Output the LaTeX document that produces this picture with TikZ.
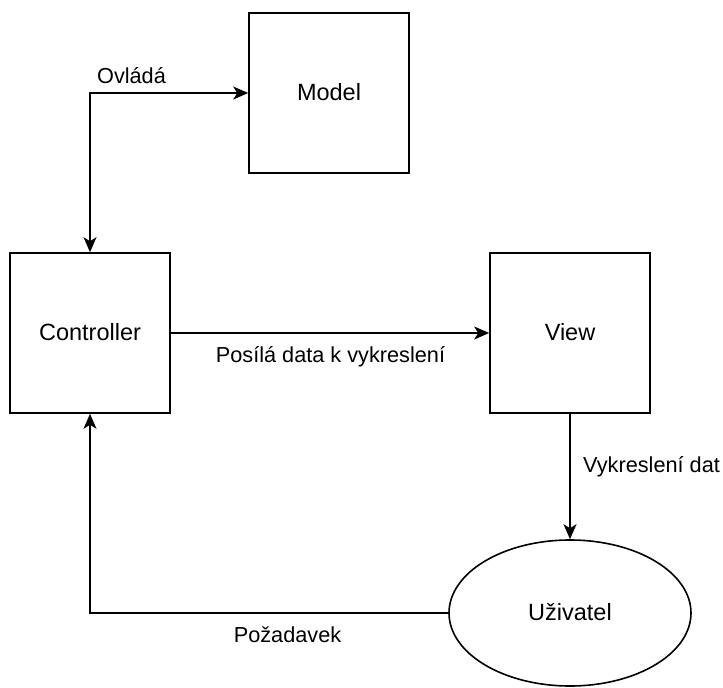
\documentclass[tikz,border=0pt]{standalone}
\usepackage{fontspec}
\setmainfont{Liberation Sans}
\usetikzlibrary{arrows.meta,shapes.geometric}
\tikzset{
  boxnode/.style={draw=black, line width=1.6pt, rectangle, minimum width=160pt, minimum height=160pt, inner sep=0pt,
    font=\fontsize{23.5}{28}\selectfont, text height=14pt, text depth=0pt},
  usernode/.style={draw=black, line width=1.6pt, ellipse, minimum width=242pt, minimum height=146pt, inner sep=0pt,
    font=\fontsize{23.5}{28}\selectfont, text height=14pt, text depth=0pt},
  lbl/.style={inner sep=0pt, font=\fontsize{21.7}{26}\selectfont},
  conn/.style={draw=black, line width=1.6pt, -{Stealth[length=15pt,width=13pt,inset=4pt]}},
  conn2/.style={draw=black, line width=1.6pt, {Stealth[length=15pt,width=13pt,inset=4pt]}-{Stealth[length=15pt,width=13pt,inset=4pt]}}
}
\begin{document}
\begin{tikzpicture}[x=1pt,y=-1pt]
\path[use as bounding box] (0,0) rectangle (723,688);
\node[boxnode] (model) at (329,93) {Model};
\node[boxnode] (ctrl) at (90,333) {Controller};
\node[boxnode] (view) at (570,333) {View};
\node[usernode] (user) at (570,613) {Uživatel};
\draw[conn2] (ctrl.north) |- (model.west);
\draw[conn] (ctrl.east) -- (view.west);
\draw[conn] (view.south) -- (user.north);
\draw[conn] (user.west) -| (ctrl.south);
\node[lbl, anchor=base] (l1) at (131.5,83) {Ovládá};
\node[lbl, anchor=base] (l2) at (330.5,362) {Posílá data k vykreslení};
\node[lbl, anchor=base west] (l3) at (583,472) {Vykreslení dat};
\node[lbl, anchor=base] (l4) at (287.5,642) {Požadavek};
\end{tikzpicture}
\end{document}
